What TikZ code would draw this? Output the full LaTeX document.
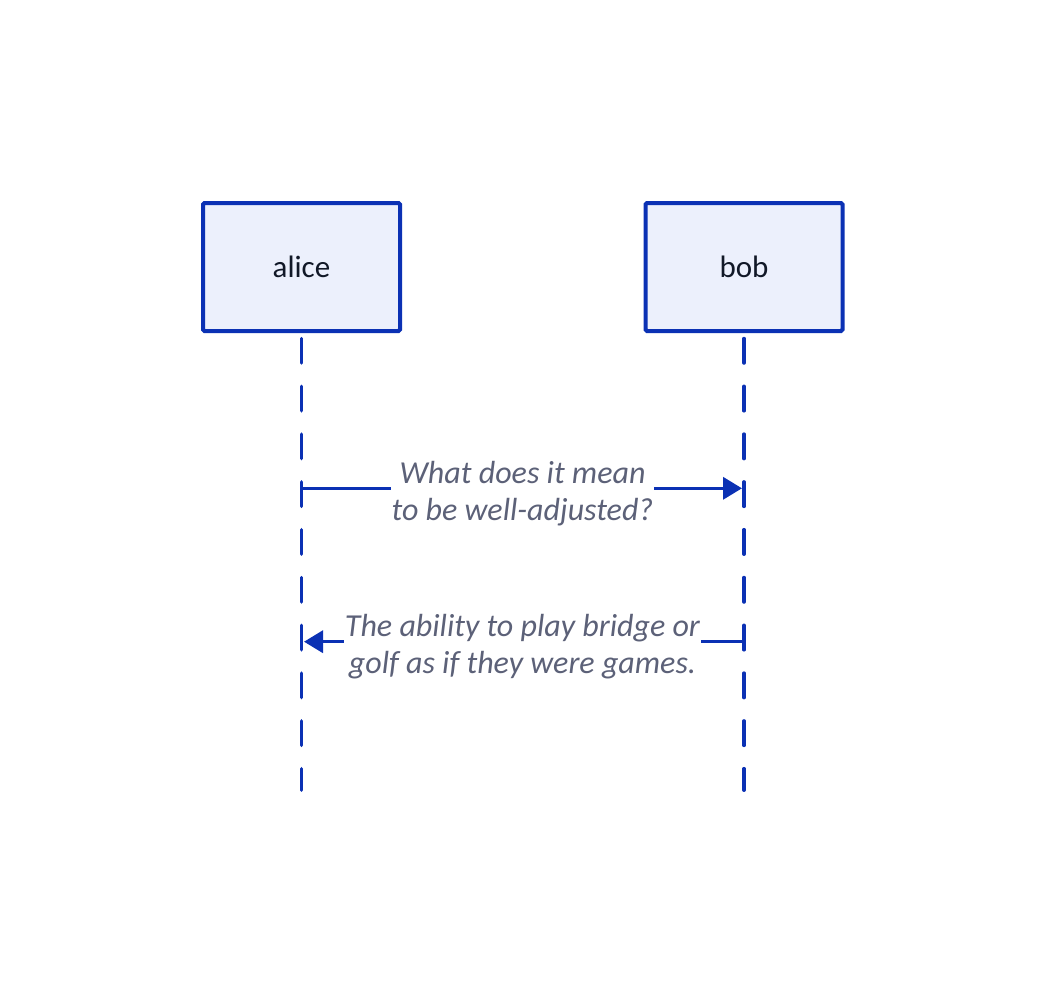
\documentclass[tikz,border=0pt]{standalone}
\usepackage{fontspec}
\setmainfont{Carlito}
\usetikzlibrary{arrows.meta,backgrounds}
\definecolor{edge}{HTML}{0B31B4}
\definecolor{boxfill}{HTML}{ECF0FC}
\definecolor{actortext}{HTML}{111827}
\definecolor{msgtext}{HTML}{5C6178}
\begin{document}
\begin{tikzpicture}[x=1pt,y=-1pt,
  actor/.style={draw=edge, fill=boxfill, line width=4pt, minimum width=197pt, minimum height=128pt,
    rounded corners=1.5pt, text=actortext, font=\fontsize{31}{36}\selectfont, inner sep=0pt},
  lifeline/.style={draw=edge, line width=3.5pt, dash pattern=on 24.5pt off 23.3pt, line cap=round},
  msg/.style={draw=edge, line width=3.5pt, -{Triangle[length=19pt,width=22pt]}},
  msglabel/.style={fill=white, text=msgtext, font=\itshape\fontsize{32}{37}\selectfont, align=center, inner sep=1pt}
]
\useasboundingbox (0,0) rectangle (1046,998);
\node[actor] (alice) at (301.5,267) {alice};
\node[actor] (bob) at (744,267) {bob};
\coordinate (aend) at (301.5,790.2);
\coordinate (bend) at (744,790.2);
\begin{scope}[on background layer]
  \draw[lifeline] ([yshift=-5.5pt]alice.south) -- (aend);
  \draw[lifeline] ([yshift=-5.5pt]bob.south) -- (bend);
\end{scope}
% message 1
\coordinate (a1) at (301.5,488.3);
\coordinate (b1) at (744,488.3);
\draw[msg, shorten >=2pt] (a1) -- (b1);
\node[msglabel, anchor=base] (m1) at (522.5,520.3) {What does it mean\\to be well-adjusted?};
% message 2
\coordinate (a2) at (301.5,641.7);
\coordinate (b2) at (744,641.7);
\draw[msg, shorten >=2.5pt] (b2) -- (a2);
\node[msglabel, anchor=base] (m2) at (522.5,673.5) {The ability to play bridge or\\golf as if they were games.};
\end{tikzpicture}
\end{document}
